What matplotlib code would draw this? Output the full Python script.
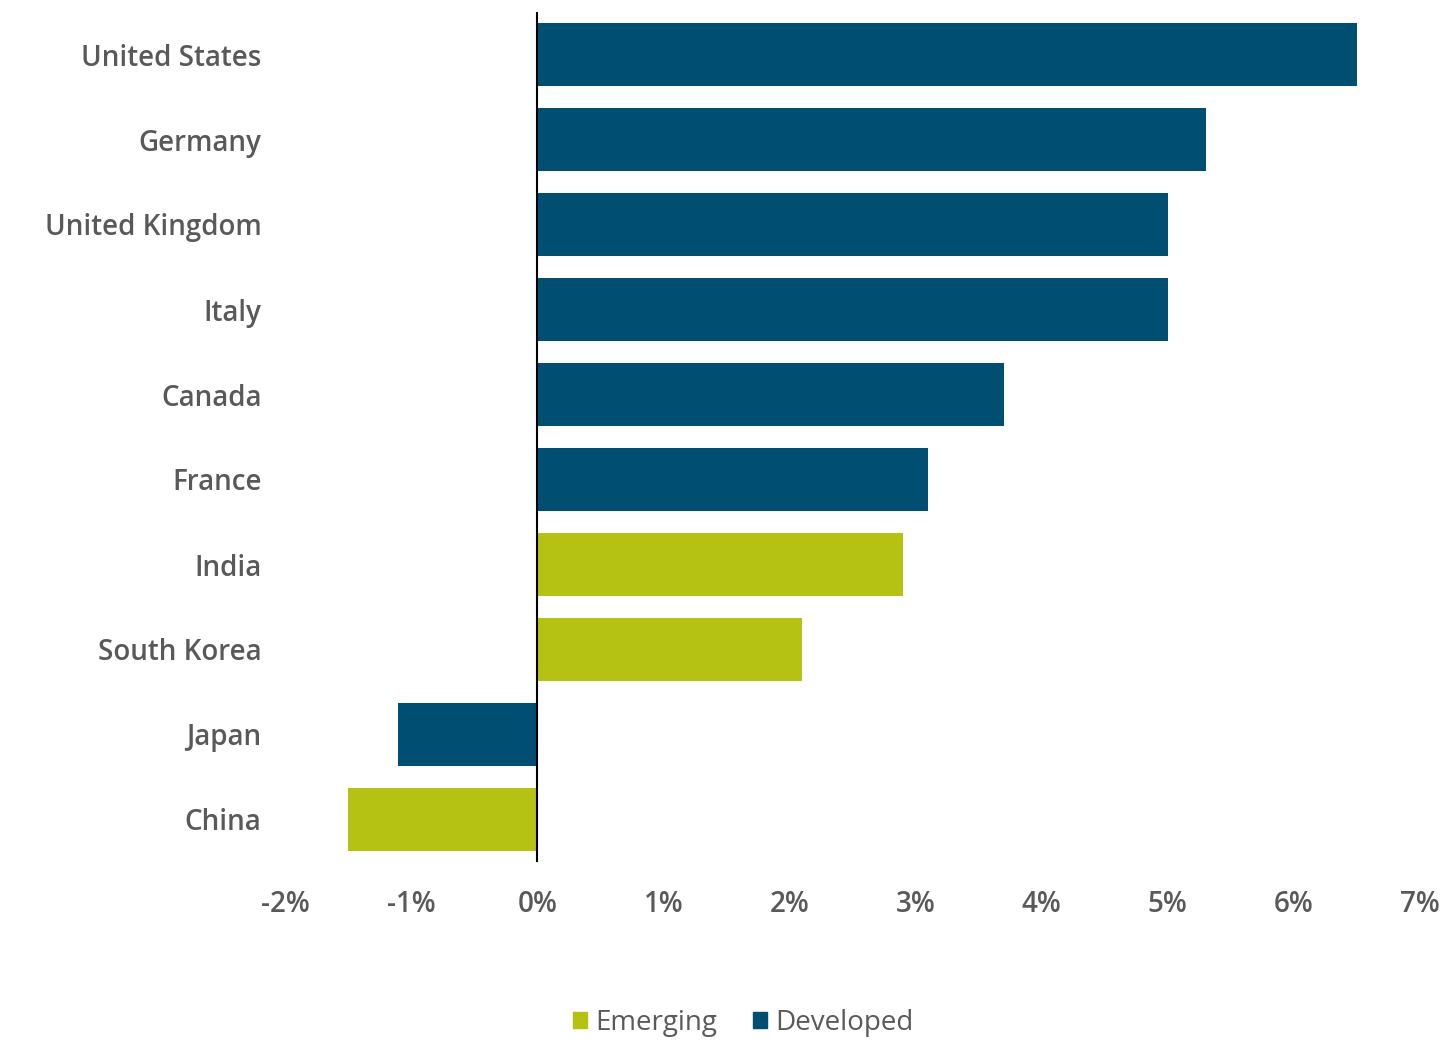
import matplotlib.pyplot as plt
from matplotlib.patches import Patch

countries = ['United States', 'Germany', 'United Kingdom', 'Italy', 'Canada',
             'France', 'India', 'South Korea', 'Japan', 'China']
values = [6.5, 5.3, 5.0, 5.0, 3.7, 3.1, 2.9, 2.1, -1.1, -1.5]
groups = ['Developed', 'Developed', 'Developed', 'Developed', 'Developed',
          'Developed', 'Emerging', 'Emerging', 'Developed', 'Emerging']
ticks = [-2, -1, 0, 1, 2, 3, 4, 5, 6, 7]

colors = {'Developed': '#004f73', 'Emerging': '#b5c214'}
grey = '#595959'

plt.rcParams['font.family'] = ['Open Sans', 'DejaVu Sans']

fig = plt.figure(figsize=(14.5, 10.43), dpi=100)
ax = fig.add_axes([285 / 1450, 1 - 862 / 1043, (1420 - 285) / 1450, (862 - 12) / 1043])

ypos = list(range(len(countries)))
ax.barh(ypos, values, height=0.73, color=[colors[g] for g in groups])
ax.axvline(0, color='black', lw=1.5)

ax.set_xlim(-2, 7)
ax.set_ylim(9.5, -0.5)
ax.set_yticks(ypos)
ax.set_yticklabels(countries, fontsize=20, color=grey, fontweight='semibold')
ax.set_xticks(ticks)
ax.set_xticklabels([f'{t}%' for t in ticks], fontsize=20, color=grey, fontweight='semibold')
ax.tick_params(axis='y', length=0, pad=17)
ax.tick_params(axis='x', length=0, pad=20)
for s in ax.spines.values():
    s.set_visible(False)

handles = [Patch(color=colors['Emerging'], label='Emerging'),
           Patch(color=colors['Developed'], label='Developed')]
fig.legend(handles=handles, loc='center', bbox_to_anchor=(743 / 1450, 1 - 1023 / 1043),
           ncol=2, frameon=False, fontsize=20, handlelength=0.5, handleheight=0.5,
           handletextpad=0.3, columnspacing=1.3, labelcolor=grey)

fig.savefig('out.png', dpi=100)
